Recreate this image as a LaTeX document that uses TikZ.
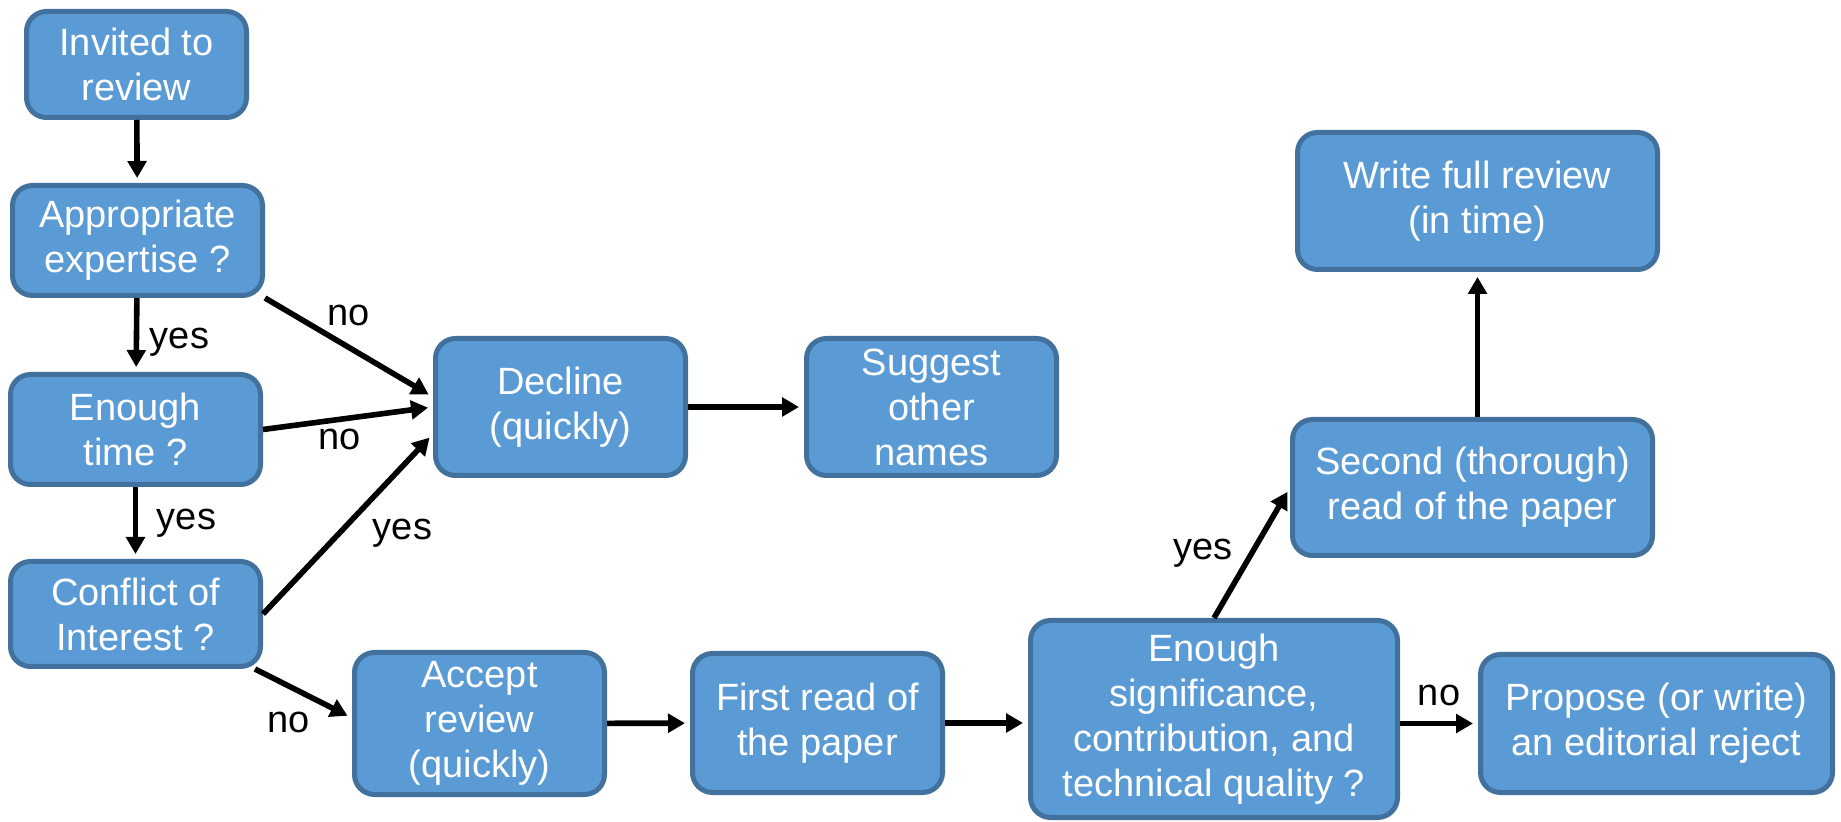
\documentclass[tikz,border=0pt]{standalone}
\usepackage{fontspec}
\setmainfont{Liberation Sans}
\usetikzlibrary{arrows.meta, positioning}

\definecolor{boxfill}{HTML}{5B9BD5}
\definecolor{boxline}{HTML}{41719C}

\begin{document}
\begin{tikzpicture}[
            x=0.5pt,
            y=-0.5pt,
            font=\fontsize{19}{22.5}\selectfont,
            semithick
        ]

        \tikzstyle{box}=[
            draw=boxline,
            line width=2.5pt,
            fill=boxfill,
            text=white,
            rounded corners=10pt,
            align=center,
            inner sep=0pt
        ]
        \tikzstyle{flow}=[
            -{Triangle[length=8.5pt,width=9.25pt]},
            line width=2.8pt,
            shorten >=2.5pt
        ]

        \useasboundingbox (0,0) rectangle (1841,822);

        % screening questions
        \node[box, minimum width=110pt, minimum height=53pt] (inv) at (136.5,64.5) {Invited to\\review};
        \node[box, minimum width=125pt, minimum height=55pt] (app) at (137.5,240.5) {Appropriate\\expertise ?};
        \node[box, minimum width=125pt, minimum height=55pt] (time) at (135.5,429.5) {Enough\\time ?};
        \node[box, minimum width=125pt, minimum height=52.5pt] (conf) at (135.5,614) {Conflict of\\Interest ?};

        % answer to the invitation
        \node[box, minimum width=125pt, minimum height=68.5pt] (dec) at (560.5,407) {Decline\\(quickly)};
        \node[box, minimum width=125pt, minimum height=68.5pt] (sug) at (931.5,407) {Suggest\\other\\names};
        \node[box, minimum width=125pt, minimum height=71pt] (acc) at (479.5,723.5) {Accept\\review\\(quickly)};

        % reading the paper
        \node[box, minimum width=125pt, minimum height=69.5pt] (first) at (817.5,723) {First read of\\the paper};
        \node[box, minimum width=183.5pt, minimum height=98.5pt] (enough) at (1214,719) {Enough\\significance,\\contribution, and\\technical quality ?};
        \node[box, minimum width=176pt, minimum height=69pt] (prop) at (1656.5,723.5) {Propose (or write)\\an editorial reject};
        \node[box, minimum width=180pt, minimum height=68pt] (sec) at (1472.5,487.5) {Second (thorough)\\read of the paper};
        \node[box, minimum width=180pt, minimum height=68.5pt] (wri) at (1477.5,201) {Write full review\\(in time)};

        \path[flow] (inv) edge node {} (app);
        \path[flow] (app) edge node[right=2pt, pos=0.6] {yes} (time);
        \path[flow] (time) edge node[right=6pt] {yes} (conf);
        \path[flow] (app.south east) edge node[above=6pt] {no} ([yshift=5pt]dec.west);
        \path[flow] (time.east) edge node[below, pos=0.45] {no} (dec.west);
        \path[flow] (conf.east) edge node[right=12pt, pos=0.45] {yes} ([yshift=-13.5pt]dec.west);
        \path[flow] ([xshift=-4pt]conf.south east) edge node[below=8pt, pos=0.35] {no} ([yshift=2.75pt]acc.west);
        \path[flow] (dec) edge node {} (sug);
        \path[flow] (acc) edge node {} (first);
        \path[flow] (first.east) edge node {} (first.east -| enough.west);
        \path[flow] (enough.east |- prop.west) edge node[above=4pt] {no} (prop.west);
        \path[flow] (enough.north) edge node[left=5pt] {yes} (sec.west);
        \path[flow] (sec.north -| wri.south) edge node {} (wri.south);

    \end{tikzpicture}
\end{document}
